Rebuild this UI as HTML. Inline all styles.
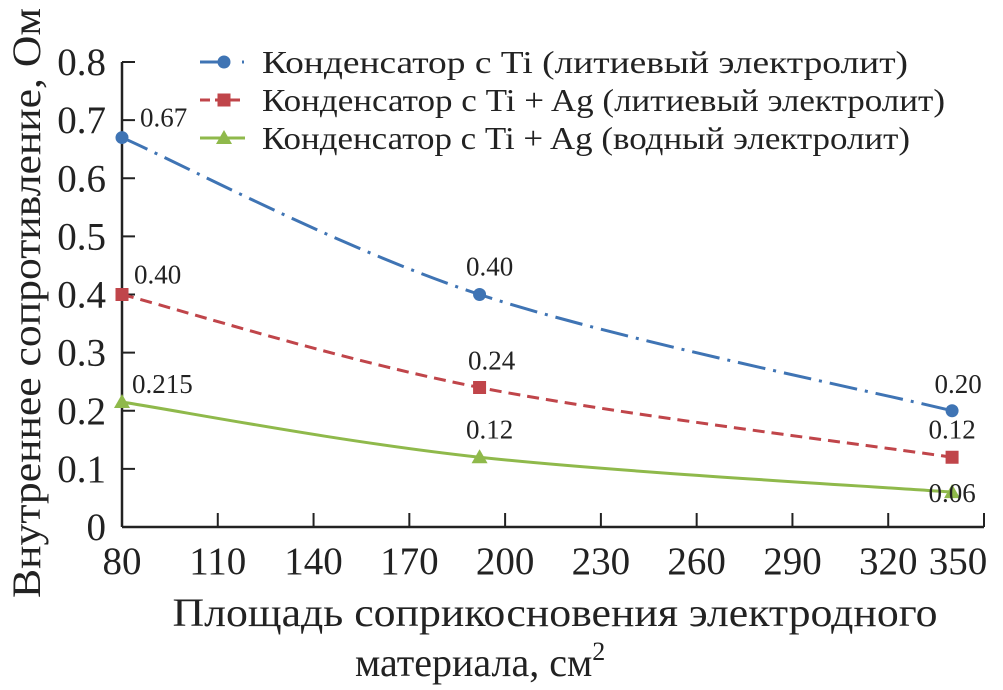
<!DOCTYPE html>
<html><head><meta charset="utf-8"><style>
html,body{margin:0;padding:0;background:#fff;}
svg{display:block;font-family:"Liberation Serif",serif;}
</style></head><body>
<svg id="chart" width="1003" height="690" viewBox="0 0 1003 690"></svg>
<script>
const xValues = [80, 192, 340];
const seriesTi = [0.67, 0.40, 0.20];
const seriesTiAg = [0.40, 0.24, 0.12];
const seriesTiAgWater = [0.215, 0.12, 0.06];
const labelsTi = ["0.67", "0.40", "0.20"];
const labelsTiAg = ["0.40", "0.24", "0.12"];
const labelsTiAgWater = ["0.215", "0.12", "0.06"];
const xTicks = [80,110,140,170,200,230,260,290,320,350];
const yTicks = [0,0.1,0.2,0.3,0.4,0.5,0.6,0.7,0.8];
const yTickLabels = ["0","0.1","0.2","0.3","0.4","0.5","0.6","0.7","0.8"];

const NS="http://www.w3.org/2000/svg";
const svg=document.getElementById('chart');
const X0=122, X1=984, Y0=527, Y1=62;
const sx=v=>X0+(v-80)/(350-80)*(X1-X0);
const sy=v=>Y0-v/0.8*(Y0-Y1);
function mk(tag,attrs,parent){const e=document.createElementNS(NS,tag);for(const k in attrs)e.setAttribute(k,attrs[k]);(parent||svg).appendChild(e);return e;}

const axY=mk('line',{x1:X0,y1:Y1,x2:X0,y2:Y0,stroke:'#222','stroke-width':2.5});


const axX=mk('line',{x1:X0,y1:Y0,x2:X1,y2:Y0,stroke:'#222','stroke-width':2.5});



yTicks.forEach((v,i)=>{
  const t=mk('line',{x1:X0,y1:sy(v),x2:X0+13,y2:sy(v),stroke:'#222','stroke-width':2});
  
  
  const l=mk('text',{x:X0-16,y:sy(v)+13,'text-anchor':'end','font-size':39,fill:'#222'});
  l.textContent=yTickLabels[i];
  
  
});
xTicks.forEach(v=>{
  if(v!==80){const t=mk('line',{x1:sx(v),y1:Y0,x2:sx(v),y2:Y0-14,stroke:'#222','stroke-width':2});
  
  }
  const l=mk('text',{x:Math.min(sx(v),958),y:Y0+47,'text-anchor':'middle','font-size':39,fill:'#222'});
  l.textContent=v;
  
  
});

const yt=mk('text',{x:0,y:0,'text-anchor':'middle','font-size':40,fill:'#222',transform:'translate(40,303) rotate(-90)',textLength:590,lengthAdjust:'spacingAndGlyphs'});
yt.textContent='Внутреннее сопротивление, Ом';


const xt1=mk('text',{x:555,y:626,'text-anchor':'middle','font-size':40,fill:'#222',textLength:765,lengthAdjust:'spacingAndGlyphs'});
xt1.textContent='Площадь соприкосновения электродного';


const xt2=mk('text',{x:355,y:676,'font-size':40,fill:'#222'});
xt2.innerHTML='материала, см<tspan dy="-16" font-size="26">2</tspan>';



function smoothPath(pts){
  let d=`M${pts[0][0]},${pts[0][1]}`;
  for(let i=0;i<pts.length-1;i++){
    const p0=pts[i-1]||pts[i],p1=pts[i],p2=pts[i+1],p3=pts[i+2]||p2;
    const c1=[p1[0]+(p2[0]-p0[0])/6,p1[1]+(p2[1]-p0[1])/6];
    const c2=[p2[0]-(p3[0]-p1[0])/6,p2[1]-(p3[1]-p1[1])/6];
    d+=` C${c1[0]},${c1[1]} ${c2[0]},${c2[1]} ${p2[0]},${p2[1]}`;
  }
  return d;
}
function marker(kind,x,y,color,g){
  if(kind==='circle')return mk('circle',{cx:x,cy:y,r:6.5,fill:color},g);
  if(kind==='square')return mk('rect',{x:x-6.5,y:y-6.5,width:13,height:13,fill:color},g);
  return mk('polygon',{points:`${x},${y-8} ${x+8},${y+6} ${x-8},${y+6}`,fill:color},g);
}
const series=[
 {name:'series-ti',vals:seriesTi,labels:labelsTi,color:'#3f74b4',dash:'28 8 3 8',kind:'circle',off:[[18,-11],[10,-19],[6,-18]]},
 {name:'series-ti-ag',vals:seriesTiAg,labels:labelsTiAg,color:'#c0454a',dash:'12 7',kind:'square',off:[[12,-11],[12,-18],[0,-19]]},
 {name:'series-ti-ag-water',vals:seriesTiAgWater,labels:labelsTiAgWater,color:'#8fb94b',dash:'',kind:'tri',off:[[10,-9],[10,-19],[0,10]]}
];
series.forEach(s=>{
  const g=mk('g',{});
  
  
  const pts=xValues.map((x,i)=>[sx(x),sy(s.vals[i])]);
  const p=mk('path',{d:smoothPath(pts),fill:'none',stroke:s.color,'stroke-width':3,'stroke-dasharray':s.dash},g);
  
  
  pts.forEach((pt,i)=>{
    const m=marker(s.kind,pt[0],pt[1],s.color,g);
    
    
    const t=mk('text',{x:pt[0]+s.off[i][0],y:pt[1]+s.off[i][1],'text-anchor':i===0?'start':'middle','font-size':27,fill:'#222'},g);
    t.textContent=s.labels[i];
    
    
  });
});

const legendText=['Конденсатор с Ti (литиевый электролит)','Конденсатор с Ti + Ag (литиевый электролит)','Конденсатор с Ti + Ag (водный электролит)'];
const legendWidths=[646,683,648];
series.forEach((s,i)=>{
  const g=mk('g',{});
  
  
  const y=62+i*38;
  mk('line',{x1:200,y1:y,x2:245,y2:y,stroke:s.color,'stroke-width':3,'stroke-dasharray':i===0?'30 12 2 6':(i===1?'10 5':'')},g);
  marker(s.kind,224,y,s.color,g);
  const t=mk('text',{x:262,y:y+11,'font-size':32,fill:'#222',textLength:legendWidths[i],lengthAdjust:'spacingAndGlyphs'},g);
  t.textContent=legendText[i];
});
</script>
</body></html>
